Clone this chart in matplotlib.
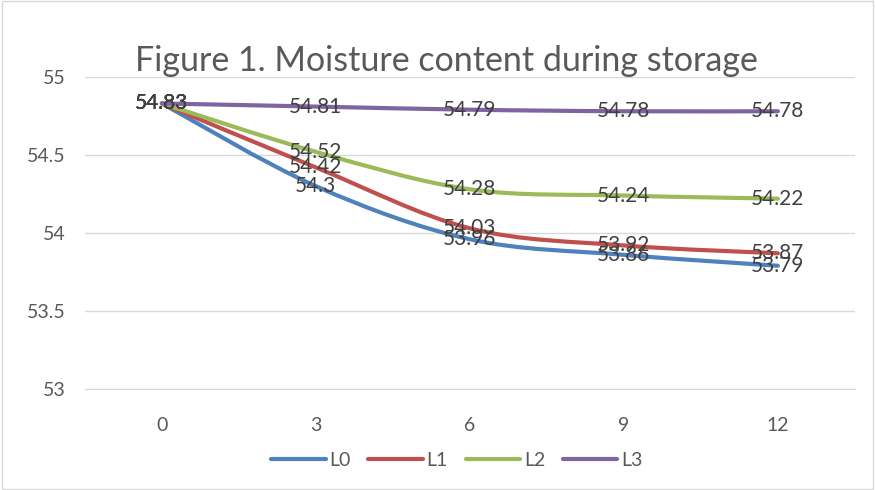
import numpy as np
import matplotlib.pyplot as plt
from matplotlib.path import Path
from matplotlib.patches import PathPatch, Rectangle
from matplotlib.lines import Line2D

days = ['0', '3', '6', '9', '12']
L0 = [54.83, 54.3, 53.96, 53.86, 53.79]
L1 = [54.83, 54.42, 54.03, 53.92, 53.87]
L2 = [54.83, 54.52, 54.28, 54.24, 54.22]
L3 = [54.83, 54.81, 54.79, 54.78, 54.78]
series = {'L0': L0, 'L1': L1, 'L2': L2, 'L3': L3}
colors = {'L0': '#4F81BD', 'L1': '#C0504D', 'L2': '#9BBB59', 'L3': '#8064A2'}

plt.rcParams['font.family'] = ['Lato', 'DejaVu Sans']

fig = plt.figure(figsize=(8.75, 4.9), dpi=100)
ax = fig.add_axes([0.097, 0.206, 0.88, 0.637])


def smooth_path(x, y):
    # Excel-style smoothed line: Catmull-Rom converted to cubic beziers
    x = np.asarray(x, float)
    y = np.asarray(y, float)
    pts = np.column_stack([x, y])
    verts = [pts[0]]
    codes = [Path.MOVETO]
    n = len(pts)
    for i in range(n - 1):
        p0 = pts[max(i - 1, 0)]
        p1 = pts[i]
        p2 = pts[i + 1]
        p3 = pts[min(i + 2, n - 1)]
        c1 = p1 + (p2 - p0) / 6.0
        c2 = p2 - (p3 - p1) / 6.0
        verts += [c1, c2, p2]
        codes += [Path.CURVE4] * 3
    return Path(verts, codes)


xs = np.arange(len(days))
for name, vals in series.items():
    patch = PathPatch(smooth_path(xs, vals), facecolor='none',
                      edgecolor=colors[name], lw=3, capstyle='round', zorder=3)
    ax.add_patch(patch)
    for xi, v in zip(xs, vals):
        ax.text(xi, v, f'{v:g}', ha='center', va='center', fontsize=15,
                color='#404040', zorder=4)

ax.set_xlim(-0.5, len(days) - 0.5)
ax.set_ylim(53, 55)
ax.set_yticks([53, 53.5, 54, 54.5, 55])
ax.set_yticklabels(['53', '53.5', '54', '54.5', '55'])
ax.set_xticks(xs)
ax.set_xticklabels(days)
ax.tick_params(length=0, labelsize=14, labelcolor='#595959')
ax.tick_params(axis='y', pad=14)
ax.tick_params(axis='x', pad=20)
ax.grid(axis='y', color='#D9D9D9', lw=1)
ax.set_axisbelow(True)
for s in ['top', 'right', 'left']:
    ax.spines[s].set_visible(False)
ax.spines['bottom'].set_color('#D9D9D9')

fig.text(0.51, 0.875, 'Figure 1. Moisture content during storage',
         ha='center', va='center', fontsize=24.5, color='#595959')

handles = [Line2D([], [], color=colors[n], lw=3, solid_capstyle='round') for n in series]
fig.legend(handles, list(series.keys()), loc='center', bbox_to_anchor=(0.522, 0.06),
           ncol=4, frameon=False, fontsize=14, handlelength=2.8, columnspacing=0.9,
           handletextpad=0.2, labelcolor='#595959')

fig.patches.append(Rectangle((0.002, 0.003), 0.996, 0.994, transform=fig.transFigure,
                             fill=False, edgecolor='#D9D9D9', lw=1))

fig.savefig('out.png', dpi=100)
